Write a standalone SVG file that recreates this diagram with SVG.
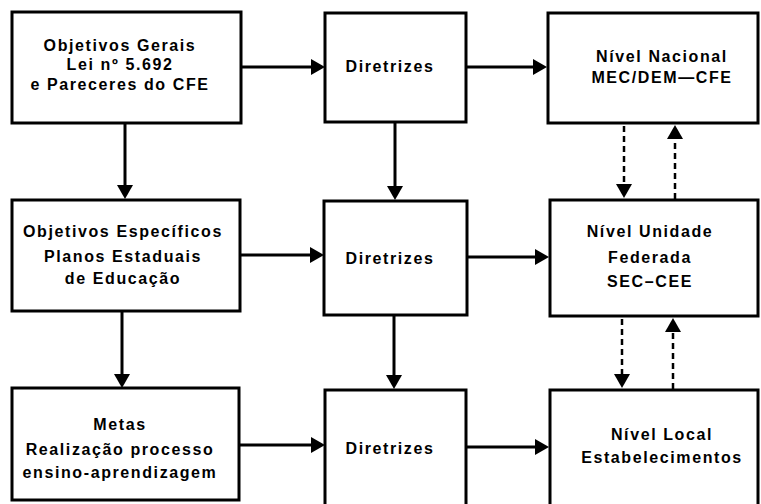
<svg xmlns="http://www.w3.org/2000/svg" width="761" height="504" viewBox="0 0 761 504">
<style>
.box{fill:#fff;stroke:#000;stroke-width:3}
.t{font-family:"Liberation Sans",Arial,sans-serif;font-weight:bold;font-size:16px;letter-spacing:1.6px;text-anchor:middle;fill:#000}
.c{stroke:#000;stroke-width:3;fill:none}
.d{stroke:#000;stroke-width:2.5;fill:none;stroke-dasharray:6 4}
</style>
<defs>
<marker id="ah" viewBox="0 0 14 16" refX="2" refY="8" markerWidth="14" markerHeight="16" markerUnits="userSpaceOnUse" orient="auto">
<path d="M0,0 L14,8 L0,16 Z" fill="#000"/>
</marker>
</defs>
<rect width="761" height="504" fill="#fff"/>
<g id="connectors">
<line class="c" x1="242" y1="67" x2="313" y2="67" marker-end="url(#ah)"/>
<line class="c" x1="467" y1="67" x2="535" y2="67" marker-end="url(#ah)"/>
<line class="c" x1="241" y1="255" x2="312" y2="255" marker-end="url(#ah)"/>
<line class="c" x1="468" y1="257" x2="537" y2="257" marker-end="url(#ah)"/>
<line class="c" x1="240" y1="445" x2="313" y2="445" marker-end="url(#ah)"/>
<line class="c" x1="467" y1="447" x2="537" y2="447" marker-end="url(#ah)"/>
<line class="c" x1="125" y1="124" x2="125" y2="187" marker-end="url(#ah)"/>
<line class="c" x1="395" y1="123" x2="395" y2="188" marker-end="url(#ah)"/>
<line class="c" x1="122" y1="312" x2="122" y2="376" marker-end="url(#ah)"/>
<line class="c" x1="394" y1="316" x2="394" y2="377" marker-end="url(#ah)"/>
<line class="d" x1="624" y1="126" x2="624" y2="186" marker-end="url(#ah)"/>
<line class="d" x1="675" y1="199" x2="675" y2="137" marker-end="url(#ah)"/>
<line class="d" x1="622" y1="319" x2="622" y2="376" marker-end="url(#ah)"/>
<line class="d" x1="673" y1="389" x2="673" y2="330" marker-end="url(#ah)"/>
</g>
<g id="objetivos-gerais">
<rect class="box" x="12" y="12" width="229" height="111"/>
<text class="t" x="120" y="51">Objetivos Gerais</text>
<text class="t" x="120" y="70">Lei nº 5.692</text>
<text class="t" x="120" y="90">e Pareceres do CFE</text>
</g>
<g id="diretrizes-1">
<rect class="box" x="325" y="13" width="141" height="109"/>
<text class="t" x="390" y="72">Diretrizes</text>
</g>
<g id="nivel-nacional">
<rect class="box" x="548" y="13" width="210" height="110"/>
<text class="t" x="662" y="62">Nível Nacional</text>
<text class="t" x="662" y="83">MEC/DEM—CFE</text>
</g>
<g id="objetivos-especificos">
<rect class="box" x="12" y="200" width="228" height="111"/>
<text class="t" x="123" y="237">Objetivos Específicos</text>
<text class="t" x="123" y="262">Planos Estaduais</text>
<text class="t" x="123" y="284">de Educação</text>
</g>
<g id="diretrizes-2">
<rect class="box" x="324" y="201" width="143" height="114"/>
<text class="t" x="390" y="264">Diretrizes</text>
</g>
<g id="nivel-unidade-federada">
<rect class="box" x="550" y="200" width="208" height="116"/>
<text class="t" x="650" y="237">Nível Unidade</text>
<text class="t" x="650" y="263">Federada</text>
<text class="t" x="650" y="287">SEC–CEE</text>
</g>
<g id="metas">
<rect class="box" x="12" y="388" width="227" height="112"/>
<text class="t" x="120" y="430">Metas</text>
<text class="t" x="120" y="455">Realização processo</text>
<text class="t" x="120" y="478">ensino-aprendizagem</text>
</g>
<g id="diretrizes-3">
<rect class="box" x="325" y="390" width="141" height="116"/>
<text class="t" x="390" y="454">Diretrizes</text>
</g>
<g id="nivel-local">
<rect class="box" x="550" y="390" width="208" height="116"/>
<text class="t" x="662" y="440">Nível Local</text>
<text class="t" x="662" y="463">Estabelecimentos</text>
</g>
</svg>
